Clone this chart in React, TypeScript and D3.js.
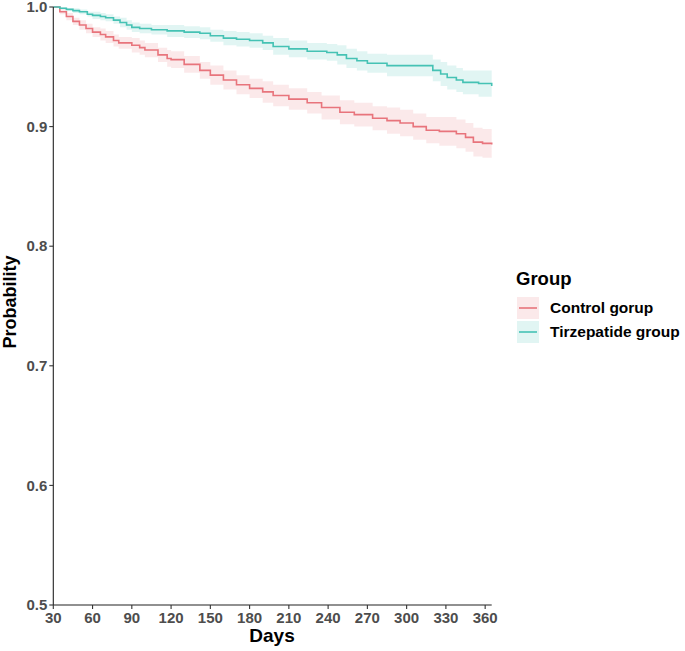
import * as d3 from 'd3';
import React from 'react';

// Kaplan-Meier style estimates
const controlDays = [30, 35, 40, 45, 50, 55, 60, 66, 70, 76, 80, 90, 96, 100, 110, 117, 120, 130, 142, 150, 160, 170, 180, 190, 198, 210, 224, 235, 249, 260, 274, 285, 295, 305, 315, 325, 338, 345, 351, 358, 365];
const controlSurv = [1.0, 0.996, 0.992, 0.988, 0.985, 0.982, 0.979, 0.977, 0.975, 0.972, 0.97, 0.968, 0.966, 0.964, 0.96, 0.957, 0.956, 0.952, 0.947, 0.943, 0.939, 0.935, 0.932, 0.929, 0.926, 0.923, 0.92, 0.916, 0.912, 0.91, 0.907, 0.905, 0.903, 0.9, 0.897, 0.896, 0.894, 0.891, 0.887, 0.886, 0.885];
const controlCi = [0, 0.002, 0.003, 0.003, 0.004, 0.004, 0.004, 0.005, 0.005, 0.005, 0.005, 0.006, 0.006, 0.006, 0.006, 0.007, 0.007, 0.007, 0.007, 0.008, 0.008, 0.008, 0.008, 0.009, 0.009, 0.009, 0.009, 0.01, 0.01, 0.01, 0.01, 0.011, 0.011, 0.011, 0.011, 0.012, 0.012, 0.012, 0.012, 0.012, 0.013];

const tirzDays = [30, 35, 40, 45, 50, 56, 60, 66, 70, 76, 81, 86, 90, 96, 105, 117, 130, 142, 150, 160, 170, 180, 190, 198, 210, 224, 239, 247, 254, 262, 270, 285, 310, 320, 326, 331, 338, 343, 355, 365];
const tirzSurv = [1.0, 0.999, 0.998, 0.997, 0.996, 0.994, 0.993, 0.992, 0.991, 0.989, 0.987, 0.985, 0.983, 0.982, 0.981, 0.98, 0.979, 0.978, 0.976, 0.974, 0.973, 0.972, 0.97, 0.967, 0.965, 0.963, 0.962, 0.96, 0.957, 0.955, 0.953, 0.951, 0.951, 0.947, 0.944, 0.941, 0.939, 0.937, 0.936, 0.934];
const tirzCi = [0, 0.001, 0.001, 0.002, 0.002, 0.002, 0.003, 0.003, 0.003, 0.003, 0.004, 0.004, 0.004, 0.004, 0.004, 0.005, 0.005, 0.005, 0.005, 0.006, 0.006, 0.006, 0.006, 0.007, 0.007, 0.007, 0.007, 0.008, 0.008, 0.008, 0.008, 0.009, 0.009, 0.009, 0.01, 0.01, 0.01, 0.01, 0.011, 0.011];

const xTicks = [30, 60, 90, 120, 150, 180, 210, 240, 270, 300, 330, 360];
const yTicks = [0.5, 0.6, 0.7, 0.8, 0.9, 1.0];
const groups = ['Control gorup', 'Tirzepatide group'];
const colors = ['#E8747C', '#45C2B4'];

type Pt = { day: number; s: number; ci: number };

export default function App() {
  const width = 685;
  const height = 651;
  const left = 53.3;
  const right = 491.7;
  const top = 7;
  const bottom = 605;

  const x = d3.scaleLinear().domain([30, 365]).range([left, right]);
  const y = d3.scaleLinear().domain([0.5, 1.0]).range([bottom, top]);

  const series: Pt[][] = [
    controlDays.map((d, i) => ({ day: d, s: controlSurv[i], ci: controlCi[i] })),
    tirzDays.map((d, i) => ({ day: d, s: tirzSurv[i], ci: tirzCi[i] })),
  ];

  const line = d3
    .line<Pt>()
    .x(d => x(d.day))
    .y(d => y(d.s))
    .curve(d3.curveStepAfter);
  const band = d3
    .area<Pt>()
    .x(d => x(d.day))
    .y0(d => y(d.s - d.ci))
    .y1(d => y(Math.min(1, d.s + d.ci)))
    .curve(d3.curveStepAfter);

  const font = '"Liberation Sans", Arial, sans-serif';

  return (
    <div style={{ position: 'absolute', left: 0, top: 0 }}>
      <svg width={width} height={height} style={{ display: 'block', background: '#fff' }} fontFamily={font}>
        {series.map((s, i) => (
          <path key={'b' + i} d={band(s) || ''} fill={colors[i]} fillOpacity={0.16} stroke="none" />
        ))}
        {series.map((s, i) => (
          <path key={'l' + i} d={line(s) || ''} fill="none" stroke={colors[i]} strokeWidth={1.6} />
        ))}

        {/* axes */}
        <line x1={left} x2={right} y1={bottom} y2={bottom} stroke="#222" strokeWidth={1.1} />
        <line x1={left} x2={left} y1={top} y2={bottom} stroke="#222" strokeWidth={1.1} />
        {xTicks.map(t => (
          <g key={'x' + t} transform={`translate(${x(t)},${bottom})`}>
            <line y2={4} stroke="#333" strokeWidth={1.1} />
            <text y={18} textAnchor="middle" fontSize={15} fontWeight="bold" fill="#4D4D4D">
              {t}
            </text>
          </g>
        ))}
        {yTicks.map(t => (
          <g key={'y' + t} transform={`translate(${left},${y(t)})`}>
            <line x2={-4} stroke="#333" strokeWidth={1.1} />
            <text x={-6} dy="0.35em" textAnchor="end" fontSize={15} fontWeight="bold" fill="#4D4D4D">
              {t.toFixed(1)}
            </text>
          </g>
        ))}
        <text x={272} y={642} textAnchor="middle" fontSize={19} fontWeight="bold" fill="#000">
          Days
        </text>
        <text transform={`translate(16,302) rotate(-90)`} textAnchor="middle" fontSize={18} fontWeight="bold" fill="#000">
          Probability
        </text>

        {/* legend */}
        <text x={516} y={285} fontSize={18.5} fontWeight="bold" fill="#000">
          Group
        </text>
        {groups.map((g, i) => (
          <g key={g} transform={`translate(517,${297 + i * 24})`}>
            <rect width={22} height={22} fill={colors[i]} fillOpacity={0.16} />
            <line x1={2} x2={20} y1={11} y2={11} stroke={colors[i]} strokeWidth={1.6} />
            <text x={33} y={11} dy="0.35em" fontSize={15.5} fontWeight="bold" fill="#000">
              {g}
            </text>
          </g>
        ))}
      </svg>
    </div>
  );
}
